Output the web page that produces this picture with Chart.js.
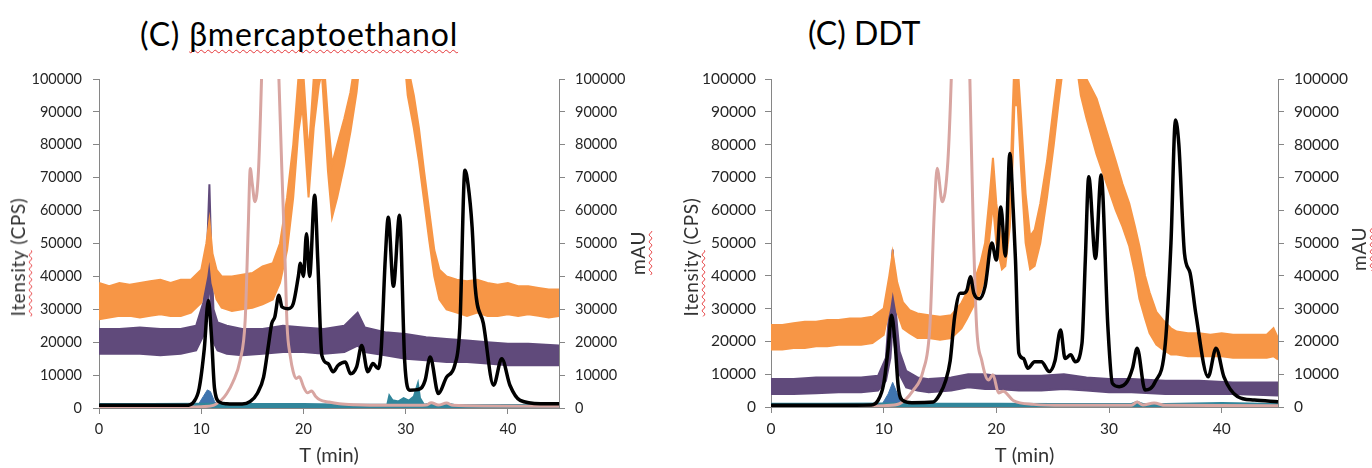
<!DOCTYPE html>
<html>
<head>
<meta charset="utf-8">
<script src="https://cdn.jsdelivr.net/npm/chart.js@4.4.1/dist/chart.umd.min.js"></script>
<style>
  body { margin: 0; background: #fff; width: 1372px; height: 468px; overflow: hidden; position: relative; font-family: Lato, "Open Sans", sans-serif; }
  .panel { position: absolute; top: 0; width: 686px; height: 468px; }
  .title { position: absolute; font-size: 32px; line-height: 32px; color: #000; white-space: nowrap; }
  .ytitle { position: absolute; font-size: 19px; line-height: 22px; letter-spacing: 0.6px; color: #333; white-space: nowrap; transform: translate(-50%, -50%) rotate(-90deg); }
  .spell { text-decoration: underline wavy #e5393b; text-decoration-thickness: 1px; text-underline-offset: 3px; text-decoration-skip-ink: none; }
</style>
</head>
<body>
<div class="title" style="left:140px; top:18px; letter-spacing:0.8px;">(C) <span class="spell">βmercaptoethanol</span></div>
<div class="title" style="left:808px; top:17px;">(C) DDT</div>

<div class="panel" style="left:0px;"><canvas id="bmeChart" width="686" height="468"></canvas></div>
<div class="panel" style="left:686px;"><canvas id="ddtChart" width="686" height="468"></canvas></div>

<div class="ytitle" style="left:18px; top:257px;"><span class="spell">Itensity</span> (CPS)</div>
<div class="ytitle" style="left:638px; top:253px;"><span class="spell">mAU</span></div>
<div class="ytitle" style="left:691px; top:257px;"><span class="spell">Itensity</span> (CPS)</div>
<div class="ytitle" style="left:1359px; top:249px;"><span class="spell">mAU</span></div>

<script>
// axis ranges
const xMax = 45, xStep = 10;
const yMax = 100000, yStep = 10000;

// ---- beta-mercaptoethanol run (values in thousands) ----
const bmeOrangeT  = [0,1,2,3,4,5,6,7,8,9,10,10.5,10.8,11.1,11.5,12,13,14,15,16,17,17.7,18.4,19.0,19.5,19.9,20.5,21.0,21.5,21.8,22.0,22.4,22.8,23.3,24.0,24.6,25.2,26,28,29.5,30.2,30.8,31.3,31.8,32.3,32.8,33.3,34,35,36,37,38,39,40,41,42,43,44,45];
const bmeOrangeHi = [38,37,38,37.5,38,38.5,39,38,39,39,42,50,57,47,42,40,40,40.5,41,43,44,50,64,80,100,106,77,100,110,112,105,88,74,80,88,96,108,130,140,130,104,95,85,72,60,48,42,40,39,38.5,39,38,37.5,38,37,37,36.5,36,36];
const bmeOrangeLo = [27,27.5,28,28,27.5,28,28.5,28,28,29,32,40,47,38,33,30.5,29.5,30,30.5,31.5,33,38,48,64,84,92,64,85,98,102,92,72,58,64,74,84,96,120,130,120,95,85,75,63,51,40,33,30,29,28,29,28,28,28.5,28,28.5,28,27.5,28];

const bmePurpleT  = [0,2,4,6,8,9.5,10.2,10.6,10.8,11.0,11.2,11.6,12.5,14,16,18,20,22,24,25.3,26,28,30,32,34,36,38,40,42,45];
const bmePurpleHi = [24,24,24.5,24,24,25,32,50,68,45,30,26,25,24,24,25,24.5,24,25,29,24.5,23,22.5,21.5,21,20.5,20,19.5,19.5,19];
const bmePurpleLo = [16.5,16.5,16.5,16,16.5,17.5,22,30,40,28,20,17.5,16.5,16,16.5,17,17,16.5,17,19,17,16,15,14.5,14,14,13.5,13,13,13];

const bmeTealT = [0,5,10,15,20,25,28.2,28.4,28.7,29.3,29.8,30.3,30.8,31.2,31.4,31.8,32.6,33.2,34.2,35,40,45];
const bmeTeal  = [1.2,1.2,1.3,1.2,1.2,1.0,1.0,3.8,2.4,2.0,3.0,2.2,3.5,7.5,3.0,1.0,1.5,0.8,1.3,0.8,0.9,0.9];

const bmeBlueT = [9.6,10.2,10.6,10.9,11.3,11.8];
const bmeBlue  = [0.5,3.5,5.5,5.0,2,0.5];

const bmePinkT = [0,5,9,10,11.2,12,12.5,13.1,13.8,14.3,14.6,14.8,15.0,15.25,15.6,15.9,16.3,16.8,17.2,17.6,17.97,18.2,18.4,18.7,19.0,19.3,19.6,20.0,20.4,20.8,21.2,21.6,22.5,23.5,25,28,30,32,32.5,33.2,34,34.6,38,45];
const bmePink  = [0.3,0.3,0.3,0.4,0.8,2.5,4.4,7.9,14.5,26.7,55,72.8,68,62.7,72,100,150,180,150,100,65,45,25,16,11,9,9.5,6.5,4.6,5.2,3.5,2.5,1.8,1.3,1.0,0.8,0.8,0.9,1.6,0.9,1.5,0.8,0.6,0.5];

const bmeBlackT = [0,5,8.5,9.3,9.8,10.3,10.7,11.0,11.3,11.8,12.5,14,14.8,15.5,16.1,16.6,16.9,17.2,17.6,17.9,18.5,19.0,19.5,19.7,20.0,20.3,20.6,21.1,21.4,21.8,22.4,22.9,23.4,24.1,24.6,25.2,25.7,26.3,26.8,27.3,27.6,28.0,28.3,28.8,29.4,29.9,30.4,31.4,31.9,32.4,33.2,34.0,34.8,35.3,35.8,36.1,36.5,36.8,37.6,38.6,39.4,40.2,41.2,43.2,45];
const bmeBlack  = [0.8,0.8,0.8,2,6,18,32.7,22,6,1.8,1.3,1.2,2,4.5,9.4,19.6,25.7,27.7,34.3,30.7,30.2,31.7,40,44,40,53,40,64.7,45,16,13.5,11,13,14,10.4,12.5,19,11,13.5,12,17.5,45,58,37,58.6,14.5,5.4,5.8,8.4,15.5,4.4,9.4,13,24.6,72.3,68,55,36.8,25.7,6.9,15,6.9,2.3,1.3,1.3];

// ---- DDT run (values in thousands) ----
const ddtOrangeT  = [0,1,2,3,4,5,6,7,8,9,10,10.5,10.8,11.2,11.7,12.3,13,14,15,16,16.9,17.4,18.1,18.6,19.0,19.4,19.7,20.0,20.5,20.8,21.2,21.45,21.6,21.9,22.2,22.6,23.0,23.4,23.9,24.5,25.1,25.5,26.5,27.5,28.0,28.9,29.8,30.6,31.2,31.8,32.3,32.7,33.2,33.6,34.2,34.8,35.5,36,37,38,39,40,41,42,43,44,44.6,45];
const ddtOrangeHi = [25,25,25.5,26,26,26.5,26.5,27,27,27.5,30,40,47,38,32,29.5,28.5,28,27.5,28,31.7,35,39,44,50,64,76,62,50,52,64,90,105,104,88,65,52,54,62,75,92,103,130,105,100,94,84,75,68,62,55,49,40,35,29,26.5,24,23,22.5,22.5,22,22.5,22,22,22,22,24,21];
const ddtOrangeLo = [17.5,17.5,18,18,18.5,18.5,19,19,19,19.5,22,30,37,29,24,22.5,21,21,20.5,21,24,27,31.7,35,39.7,52,62,50,42,43,55,75,92,92,72,50,42,43,50,64,80,92,120,95,88,77,68,60,55,49,41,33,27,22.5,19,17.5,16,16,15.5,15.5,15.5,15.5,15,15,15,15,15.5,14.5];

const ddtPurpleT  = [0,2,4,6,8,9.5,10.2,10.6,10.8,11.0,11.4,12,13,14,16,17.5,19,20,22,24,26,28,30,32,35,38,41,45];
const ddtPurpleHi = [8.5,8.5,9,9,9,9.5,15,35,48,32,17,11,9,8.5,9,10,10,9.5,9.5,9.5,10,9,8.5,8.5,8,8,7.5,7.5];
const ddtPurpleLo = [4,4,4.2,4.5,4.5,5,8,15,25,18,10,6,5,4.5,5,6,5.5,5.5,5,5,5.5,5,4.5,4.5,4,4,4,3.5];

const ddtTealT = [0,5,10,15,20,25,30,32,32.5,33,35,40,45];
const ddtTeal  = [1.0,1.0,1.1,1.0,1.0,0.9,0.9,0.9,1.6,0.9,0.9,1.2,0.9];

const ddtBlueT = [9.8,10.4,10.8,11.1,11.5,12];
const ddtBlue  = [0.5,4,7.5,5,1.5,0.5];

const ddtPinkT = [0,9,10,11.4,12.6,13.5,14.1,14.5,14.75,15.2,15.7,16.0,16.4,16.8,17.3,17.65,17.95,18.25,18.7,19.3,19.7,20.2,20.6,21.5,23.3,26,32,32.5,33,34,35,45];
const ddtPink  = [0.2,0.3,0.4,1,5,11,24.5,60,72.8,62.6,75,100,150,180,150,100,55,24.5,14.3,8.2,9.8,4.3,4.8,2,0.8,0.5,0.5,1.5,0.6,1.2,0.5,0.4];

const ddtBlackT = [0,5,8.9,9.5,10.0,10.4,10.7,11.0,11.3,11.7,12.5,14.4,15.0,15.5,15.9,16.3,16.8,17.1,17.4,17.7,18.0,18.5,19.0,19.6,20.0,20.4,20.8,21.2,21.5,21.7,22.0,22.4,22.8,23.4,24.0,24.7,25.2,25.7,26.1,26.6,27.0,27.6,27.9,28.2,28.8,29.3,29.9,30.3,30.9,31.6,32.1,32.5,33.2,34.1,35.0,35.5,35.9,36.2,36.7,37.2,37.7,38.8,39.5,40.2,41.4,42.9,45];
const ddtBlack  = [0.5,0.5,0.6,2,7,18,28,20,6,2,1.3,1.5,4,8,14,27.5,34.7,34.7,35.7,39.7,34.7,33,36.7,50,44.8,61,46,77.3,60,44.8,16.4,14.8,11.8,13.8,13.8,10.8,14,23.5,14.8,15.9,13.8,19.4,45,70.2,45.3,70.7,24.5,7.2,6.2,7.7,12,17.9,5.2,7.7,19.4,50,87.5,80,46.8,40.8,28.6,9.2,17.9,9.2,3.2,2.1,1.6];

Chart.defaults.font.family = 'Lato, "Open Sans", sans-serif';

function pts(t, v) {
  return t.map((x, i) => ({ x: x, y: v[i] * 1000 }));
}

function line(label, t, v, color, width, extra) {
  return Object.assign({
    label: label,
    data: pts(t, v),
    borderColor: color,
    backgroundColor: color,
    borderWidth: width,
    pointRadius: 0,
    fill: false,
    tension: 0,
    clip: 0,
    yAxisID: 'y'
  }, extra || {});
}

function yAxis(pos, box) {
  return {
    type: 'linear',
    position: pos,
    min: 0,
    max: yMax,
    ticks: { stepSize: yStep, padding: pos === 'left' ? box.padL : box.padR, color: '#262626', font: { size: box.tick }, callback: v => String(v) },
    grid: { drawOnChartArea: false, tickLength: 6, color: '#868686' },
    border: { color: '#868686' },
    afterFit: sc => { sc.width = pos === 'left' ? box.yl : box.yr; }
  };
}

function buildChart(id, s, box) {
  const datasets = [
    line('UV 280', s.blackT, s.black, '#000000', 3.5, { order: 0, cubicInterpolationMode: 'monotone', yAxisID: 'y2' }),
    line('UV 214', s.pinkT, s.pink, '#D8A5A1', 3, { order: 1, cubicInterpolationMode: 'monotone', yAxisID: 'y2' }),
    line('m/z 3', s.tealT, s.teal, '#31869B', 2, { order: 2, fill: 'origin' }),
    line('m/z 4', s.blueT, s.blue, '#3F74AE', 1, { order: 2, fill: 'origin' }),
    line('m/z 1 low', s.orangeT, s.orangeLo, '#F79646', 2, { order: 3 }),
    line('m/z 1', s.orangeT, s.orangeHi, '#F79646', 2, { order: 3, fill: '-1' }),
    line('m/z 2 low', s.purpleT, s.purpleLo, '#604A7B', 2, { order: 4 }),
    line('m/z 2', s.purpleT, s.purpleHi, '#604A7B', 2, { order: 4, fill: '-1' })
  ];

  return new Chart(document.getElementById(id), {
    type: 'line',
    data: { datasets: datasets },
    options: {
      responsive: false,
      animation: false,
      devicePixelRatio: 1,
      layout: { padding: { top: box.top, left: 0, right: 0, bottom: 0 } },
      plugins: { legend: { display: false }, tooltip: { enabled: false } },
      scales: {
        x: {
          type: 'linear',
          min: 0,
          max: xMax,
          ticks: { stepSize: xStep, includeBounds: false, padding: 7, maxRotation: 0, color: '#262626', font: { size: box.tick } },
          grid: { drawOnChartArea: false, tickLength: 6, color: '#868686' },
          border: { color: '#868686' },
          title: { display: true, text: 'T (min)', color: '#333', font: { size: 20 }, padding: { top: 0, bottom: 0 } },
          afterFit: sc => { sc.height = box.xh; }
        },
        y: yAxis('left', box),
        y2: yAxis('right', box)
      }
    }
  });
}

buildChart('bmeChart', {
  orangeT: bmeOrangeT, orangeHi: bmeOrangeHi, orangeLo: bmeOrangeLo,
  purpleT: bmePurpleT, purpleHi: bmePurpleHi, purpleLo: bmePurpleLo,
  tealT: bmeTealT, teal: bmeTeal, blueT: bmeBlueT, blue: bmeBlue,
  pinkT: bmePinkT, pink: bmePink, blackT: bmeBlackT, black: bmeBlack
}, { top: 79, yl: 99, yr: 127, xh: 60, tick: 14.5, padL: 11, padR: 10 });

buildChart('ddtChart', {
  orangeT: ddtOrangeT, orangeHi: ddtOrangeHi, orangeLo: ddtOrangeLo,
  purpleT: ddtPurpleT, purpleHi: ddtPurpleHi, purpleLo: ddtPurpleLo,
  tealT: ddtTealT, teal: ddtTeal, blueT: ddtBlueT, blue: ddtBlue,
  pinkT: ddtPinkT, pink: ddtPink, blackT: ddtBlackT, black: ddtBlack
}, { top: 79, yl: 85, yr: 94, xh: 61, tick: 15.5, padL: 9, padR: 10 });
</script>
</body>
</html>
